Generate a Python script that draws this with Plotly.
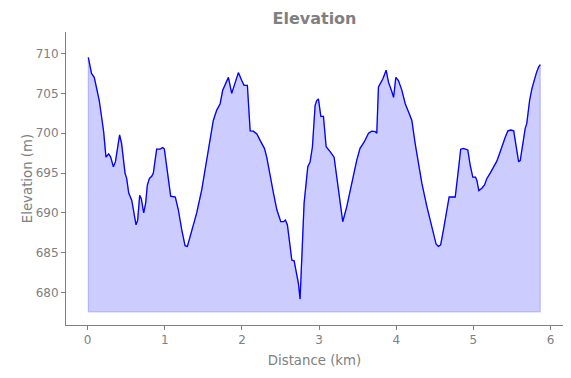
import plotly.graph_objects as go

distance_km = [
    0.008, 0.05, 0.085, 0.116, 0.15, 0.181, 0.207, 0.237, 0.272, 0.298,
    0.333, 0.359, 0.385, 0.414, 0.44, 0.462, 0.484, 0.506, 0.532, 0.571,
    0.602, 0.627, 0.648, 0.674, 0.695, 0.726, 0.751, 0.773, 0.799, 0.830,
    0.851, 0.894, 0.938, 0.972, 0.994, 1.033, 1.076, 1.136, 1.175, 1.219,
    1.262, 1.292, 1.349, 1.413, 1.478, 1.543, 1.587, 1.628, 1.673, 1.717,
    1.75, 1.794, 1.824, 1.867, 1.911, 1.953, 1.997, 2.027, 2.07, 2.106,
    2.148, 2.193, 2.235, 2.291, 2.321, 2.365, 2.408, 2.452, 2.503, 2.537,
    2.563, 2.589, 2.615, 2.646, 2.676, 2.71, 2.731, 2.753, 2.776, 2.805,
    2.831, 2.853, 2.883, 2.913, 2.948, 2.969, 2.991, 3.022, 3.056, 3.091,
    3.143, 3.194, 3.251, 3.306, 3.358, 3.422, 3.487, 3.53, 3.584, 3.64,
    3.683, 3.726, 3.747, 3.769, 3.789, 3.825, 3.869, 3.899, 3.943, 3.965,
    3.994, 4.028, 4.072, 4.116, 4.158, 4.202, 4.245, 4.287, 4.332, 4.397,
    4.46, 4.516, 4.546, 4.575, 4.612, 4.655, 4.685, 4.719, 4.764, 4.805,
    4.835, 4.872, 4.927, 4.958, 4.992, 5.027, 5.044, 5.07, 5.109, 5.144,
    5.173, 5.217, 5.261, 5.303, 5.348, 5.382, 5.412, 5.447, 5.486, 5.522,
    5.555, 5.586, 5.607, 5.642, 5.671, 5.691, 5.728, 5.758, 5.791, 5.814,
    5.844, 5.866,
]
elevation_m = [
    709.5, 707.5, 707.0, 705.8, 704.1, 702.0, 700.2, 697.0, 697.4, 697.0,
    695.8, 696.4, 697.9, 699.8, 698.7, 696.6, 695.0, 694.3, 692.5, 691.6,
    690.0, 688.5, 689.1, 692.2, 691.8, 690.0, 691.2, 693.5, 694.3, 694.6,
    695.0, 698.0, 698.0, 698.2, 698.0, 695.0, 692.1, 692.0, 690.4, 687.9,
    685.9, 685.8, 687.7, 690.0, 692.9, 696.6, 699.1, 701.6, 702.9, 703.7,
    705.4, 706.4, 707.0, 705.0, 706.4, 707.6, 706.6, 706.0, 706.0, 700.3,
    700.25, 699.9, 699.1, 698.1, 697.0, 694.5, 692.5, 690.4, 688.9, 688.9,
    689.1, 688.5, 686.2, 684.1, 684.0, 682.5, 681.2, 679.2, 684.5, 691.2,
    693.7, 695.8, 696.4, 698.3, 703.5, 704.1, 704.3, 702.1, 702.1, 698.3,
    697.7, 697.0, 692.9, 688.9, 690.8, 693.7, 696.6, 698.1, 698.9, 700.0,
    700.25, 700.2, 700.0, 705.8, 706.2, 706.8, 707.9, 706.4, 705.2, 704.5,
    707.0, 706.6, 705.4, 703.7, 702.7, 701.6, 698.7, 696.2, 693.7, 690.8,
    688.1, 686.1, 685.8, 686.0, 687.9, 690.4, 692.0, 692.0, 692.0, 695.4,
    698.0, 698.1, 697.9, 696.0, 694.5, 694.5, 694.1, 692.8, 693.1, 693.5,
    694.3, 695.0, 695.8, 696.5, 697.7, 698.7, 699.5, 700.3, 700.4, 700.3,
    698.3, 696.4, 696.6, 698.7, 700.6, 701.2, 704.1, 705.6, 706.8, 707.5,
    708.3, 708.6,
]
fill_base_m = 677.6

x_ticks = [0, 1, 2, 3, 4, 5, 6]
y_ticks = [680, 685, 690, 695, 700, 705, 710]

GRAY = "#808080"
FONT = "DejaVu Sans"

# Closed polygon for the shaded area under the profile
poly_x = [distance_km[0]] + distance_km + [distance_km[-1], distance_km[0]]
poly_y = [fill_base_m] + elevation_m + [fill_base_m, fill_base_m]

fig = go.Figure()
fig.add_trace(go.Scatter(
    x=poly_x, y=poly_y, mode="lines", fill="toself",
    fillcolor="rgba(0,0,255,0.2)",
    line=dict(color="rgba(0,0,255,0.2)", width=1.2),
    hoverinfo="skip", showlegend=False,
))
fig.add_trace(go.Scatter(
    x=distance_km, y=elevation_m, mode="lines",
    line=dict(color="#0000ff", width=1.3),
    showlegend=False,
))

fig.update_layout(
    width=571, height=378,
    margin=dict(l=66, r=8, t=32, b=53, autoexpand=False),
    paper_bgcolor="white", plot_bgcolor="white",
    font=dict(family=FONT, color=GRAY, size=12),
    title=dict(text="<b>Elevation</b>", x=0.5, xref="paper", xanchor="center",
               y=1 - 18 / 378, yanchor="middle",
               font=dict(family=FONT, size=16, color=GRAY)),
)
fig.update_xaxes(
    range=[-0.281, 6.161], tickvals=x_ticks, ticktext=[str(t) for t in x_ticks],
    showline=True, linecolor=GRAY, linewidth=1,
    ticks="outside", ticklen=4, tickcolor=GRAY, tickwidth=1,
    showgrid=False, zeroline=False, automargin=False,
    tickfont=dict(size=12, color=GRAY),
    title=dict(text="Distance (km)", font=dict(size=13.3, color=GRAY), standoff=9),
)
fig.update_yaxes(
    range=[675.95, 712.69], tickvals=y_ticks, ticktext=[str(t) for t in y_ticks],
    showline=True, linecolor=GRAY, linewidth=1,
    ticks="outside", ticklen=4, tickcolor=GRAY, tickwidth=1,
    showgrid=False, zeroline=False, automargin=False,
    tickfont=dict(size=12, color=GRAY),
    title=dict(text="Elevation (m)", font=dict(size=13.3, color=GRAY), standoff=0),
)

fig.write_html(
    "out.html",
    config={"displayModeBar": False},
    post_script="document.body.style.margin='0';document.body.style.overflow='hidden';",
)
